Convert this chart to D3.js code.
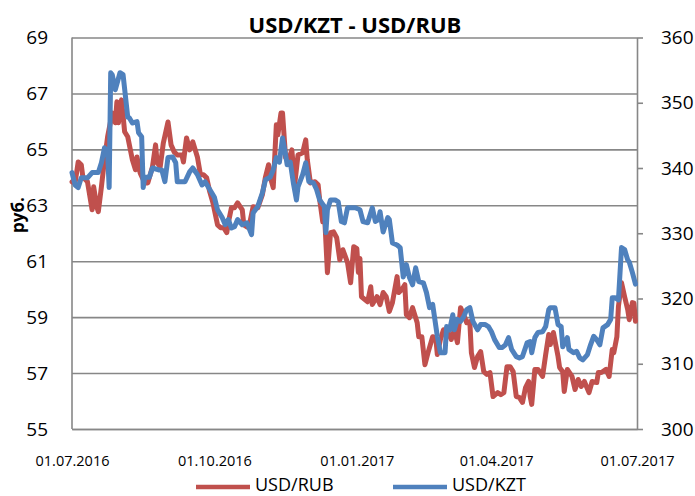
<!DOCTYPE html>
<html>
<head>
<meta charset="utf-8">
<script src="https://cdn.jsdelivr.net/npm/d3@7"></script>
<style>
  body { margin: 0; background: #fff; }
  svg text { font-family: "Open Sans", sans-serif; fill: #000; }
</style>
</head>
<body>
<div class="chart"></div>
<script>
// USD/KZT (right axis), daily
var kztData = [
  ["2016-07-01",339.3],["2016-07-03",337.4],["2016-07-05",337.0],["2016-07-07",338.5],["2016-07-11",338.5],
  ["2016-07-14",339.3],["2016-07-18",339.3],["2016-07-20",340.8],["2016-07-22",343.1],["2016-07-24",342.3],
  ["2016-07-25",337.0],["2016-07-26",354.6],["2016-07-27",354.3],["2016-07-29",352.0],["2016-08-01",354.6],
  ["2016-08-03",354.3],["2016-08-06",347.8],["2016-08-07",347.7],["2016-08-09",346.9],["2016-08-12",347.1],
  ["2016-08-13",345.4],["2016-08-15",344.8],["2016-08-16",337.0],["2016-08-17",338.6],["2016-08-20",338.6],
  ["2016-08-22",340.0],["2016-08-26",339.7],["2016-08-28",339.7],["2016-08-30",337.9],["2016-09-01",341.6],
  ["2016-09-04",341.7],["2016-09-06",340.8],["2016-09-07",337.9],["2016-09-12",337.9],["2016-09-15",339.4],
  ["2016-09-17",340.0],["2016-09-20",339.0],["2016-09-23",337.4],["2016-09-25",337.9],["2016-09-28",336.7],
  ["2016-10-01",335.5],["2016-10-03",333.6],["2016-10-06",332.4],["2016-10-08",331.3],["2016-10-10",332.1],
  ["2016-10-12",330.8],["2016-10-14",331.0],["2016-10-16",332.1],["2016-10-19",331.3],["2016-10-22",331.6],
  ["2016-10-25",329.8],["2016-10-26",333.1],["2016-10-29",334.1],["2016-11-01",336.2],["2016-11-03",338.2],
  ["2016-11-06",338.6],["2016-11-08",339.7],["2016-11-10",341.6],["2016-11-12",340.9],["2016-11-14",344.6],
  ["2016-11-16",342.0],["2016-11-17",340.5],["2016-11-19",340.9],["2016-11-21",337.7],["2016-11-23",335.1],
  ["2016-11-24",337.1],["2016-11-27",339.0],["2016-11-29",340.8],["2016-12-01",337.9],["2016-12-04",337.7],
  ["2016-12-06",336.7],["2016-12-08",335.1],["2016-12-11",334.1],["2016-12-12",330.1],["2016-12-13",333.6],
  ["2016-12-15",335.1],["2016-12-18",335.1],["2016-12-20",334.8],["2016-12-22",331.8],["2016-12-24",331.6],
  ["2016-12-26",333.9],["2016-12-29",333.9],["2016-12-31",333.9],["2017-01-03",333.6],["2017-01-05",331.8],
  ["2017-01-08",331.6],["2017-01-11",333.9],["2017-01-13",331.8],["2017-01-15",332.1],["2017-01-16",333.3],
  ["2017-01-18",330.2],["2017-01-21",332.4],["2017-01-22",332.1],["2017-01-24",328.5],["2017-01-27",328.2],
  ["2017-01-29",327.8],["2017-01-31",323.3],["2017-02-02",325.2],["2017-02-04",323.2],["2017-02-06",322.1],
  ["2017-02-08",324.7],["2017-02-10",322.6],["2017-02-13",322.4],["2017-02-15",320.9],["2017-02-17",318.6],
  ["2017-02-19",319.1],["2017-02-22",314.2],["2017-02-24",311.7],["2017-02-27",311.7],["2017-02-28",315.7],
  ["2017-03-02",315.2],["2017-03-04",317.5],["2017-03-05",315.2],["2017-03-07",316.8],["2017-03-09",316.5],
  ["2017-03-11",317.2],["2017-03-13",318.3],["2017-03-15",318.6],["2017-03-17",316.5],["2017-03-20",315.2],
  ["2017-03-22",316.0],["2017-03-25",316.0],["2017-03-27",315.7],["2017-03-29",314.9],["2017-03-31",313.7],
  ["2017-04-03",312.5],["2017-04-05",312.5],["2017-04-07",312.9],["2017-04-09",314.0],["2017-04-11",312.2],
  ["2017-04-14",311.1],["2017-04-16",310.9],["2017-04-18",311.1],["2017-04-21",313.2],["2017-04-23",313.4],
  ["2017-04-24",311.7],["2017-04-26",314.0],["2017-04-28",314.8],["2017-05-01",314.9],["2017-05-03",315.7],
  ["2017-05-05",318.3],["2017-05-06",318.6],["2017-05-09",318.6],["2017-05-11",316.0],["2017-05-13",315.7],
  ["2017-05-14",312.6],["2017-05-17",314.0],["2017-05-18",312.2],["2017-05-21",311.7],["2017-05-23",311.9],
  ["2017-05-25",310.9],["2017-05-27",310.6],["2017-05-30",311.4],["2017-06-01",312.9],["2017-06-03",314.2],
  ["2017-06-05",313.7],["2017-06-07",312.9],["2017-06-09",315.5],["2017-06-12",316.0],["2017-06-14",316.8],
  ["2017-06-15",320.1],["2017-06-17",320.1],["2017-06-19",319.8],["2017-06-21",327.8],["2017-06-23",327.5],
  ["2017-06-25",325.9],["2017-06-26",325.6],["2017-06-28",324.0],["2017-06-30",322.2]
];

// USD/RUB (left axis), daily
var rubData = [
  ["2016-07-01",63.84],["2016-07-03",63.80],["2016-07-05",64.55],["2016-07-07",64.45],["2016-07-08",64.02],
  ["2016-07-11",63.84],["2016-07-14",62.84],["2016-07-15",63.66],["2016-07-17",62.95],["2016-07-18",62.77],
  ["2016-07-20",63.66],["2016-07-22",64.63],["2016-07-24",65.45],["2016-07-27",66.30],["2016-07-29",65.95],
  ["2016-07-30",66.70],["2016-07-31",65.95],["2016-08-02",66.77],["2016-08-04",65.63],["2016-08-06",65.45],
  ["2016-08-09",64.63],["2016-08-11",64.27],["2016-08-12",64.73],["2016-08-14",64.16],["2016-08-17",63.80],
  ["2016-08-19",63.80],["2016-08-22",64.38],["2016-08-24",65.16],["2016-08-25",64.52],["2016-08-27",64.38],
  ["2016-08-29",65.23],["2016-09-01",65.98],["2016-09-03",65.16],["2016-09-05",64.91],["2016-09-07",64.80],
  ["2016-09-10",64.80],["2016-09-11",64.55],["2016-09-13",65.41],["2016-09-15",64.98],["2016-09-17",65.27],
  ["2016-09-20",64.73],["2016-09-22",64.09],["2016-09-24",64.09],["2016-09-26",63.98],["2016-09-28",63.48],
  ["2016-09-30",63.10],["2016-10-03",62.30],["2016-10-05",62.20],["2016-10-07",62.20],["2016-10-09",62.02],
  ["2016-10-10",62.38],["2016-10-12",62.91],["2016-10-14",62.91],["2016-10-16",63.09],["2016-10-19",62.84],
  ["2016-10-20",62.30],["2016-10-22",62.23],["2016-10-24",62.41],["2016-10-26",62.95],["2016-10-29",62.91],
  ["2016-11-01",63.38],["2016-11-03",64.02],["2016-11-05",64.45],["2016-11-06",64.02],["2016-11-08",63.63],
  ["2016-11-10",65.88],["2016-11-11",65.52],["2016-11-13",66.30],["2016-11-14",66.30],["2016-11-16",64.70],
  ["2016-11-18",64.63],["2016-11-20",64.98],["2016-11-22",63.80],["2016-11-24",64.80],["2016-11-27",64.88],
  ["2016-11-29",65.34],["2016-11-30",64.63],["2016-12-02",63.80],["2016-12-05",63.84],["2016-12-07",63.73],
  ["2016-12-08",63.20],["2016-12-10",62.41],["2016-12-11",62.84],["2016-12-13",60.59],["2016-12-15",62.02],
  ["2016-12-17",62.05],["2016-12-19",61.84],["2016-12-21",61.05],["2016-12-23",61.41],["2016-12-26",60.95],
  ["2016-12-28",60.23],["2016-12-30",61.52],["2017-01-01",61.45],["2017-01-02",60.60],["2017-01-03",61.10],
  ["2017-01-04",59.73],["2017-01-08",59.55],["2017-01-10",60.09],["2017-01-11",59.45],["2017-01-14",59.73],
  ["2017-01-16",59.45],["2017-01-18",59.88],["2017-01-20",59.73],["2017-01-22",59.20],["2017-01-24",59.52],
  ["2017-01-27",60.45],["2017-01-28",59.88],["2017-01-30",59.98],["2017-02-01",60.16],["2017-02-02",59.09],
  ["2017-02-04",58.98],["2017-02-06",59.34],["2017-02-09",58.80],["2017-02-10",58.30],["2017-02-12",58.30],
  ["2017-02-14",57.30],["2017-02-16",57.73],["2017-02-19",58.30],["2017-02-21",58.27],["2017-02-22",57.66],
  ["2017-02-24",58.20],["2017-02-26",58.55],["2017-03-01",58.45],["2017-03-03",58.20],["2017-03-05",58.55],
  ["2017-03-07",58.09],["2017-03-09",59.34],["2017-03-11",59.09],["2017-03-13",58.80],["2017-03-15",58.84],
  ["2017-03-16",57.73],["2017-03-18",57.20],["2017-03-20",57.59],["2017-03-22",57.77],["2017-03-24",57.05],
  ["2017-03-26",56.95],["2017-03-28",57.02],["2017-03-30",56.16],["2017-04-02",56.30],["2017-04-04",56.23],
  ["2017-04-06",56.30],["2017-04-08",57.23],["2017-04-10",57.23],["2017-04-12",57.05],["2017-04-14",56.16],
  ["2017-04-16",56.13],["2017-04-18",55.95],["2017-04-20",56.48],["2017-04-22",56.70],["2017-04-23",56.16],
  ["2017-04-24",55.88],["2017-04-26",57.13],["2017-04-28",57.13],["2017-05-01",56.88],["2017-05-03",57.66],
  ["2017-05-05",58.38],["2017-05-06",58.02],["2017-05-08",58.45],["2017-05-11",57.59],["2017-05-12",57.20],
  ["2017-05-14",57.05],["2017-05-15",56.34],["2017-05-17",57.13],["2017-05-20",56.88],["2017-05-22",56.41],
  ["2017-05-24",56.77],["2017-05-26",56.52],["2017-05-28",56.70],["2017-05-31",56.30],["2017-06-02",56.70],
  ["2017-06-05",56.66],["2017-06-06",57.02],["2017-06-08",57.02],["2017-06-11",57.13],["2017-06-13",56.88],
  ["2017-06-15",57.84],["2017-06-16",57.73],["2017-06-18",58.30],["2017-06-19",59.38],["2017-06-21",60.23],
  ["2017-06-23",59.73],["2017-06-25",59.27],["2017-06-26",58.91],["2017-06-28",59.52],["2017-06-29",59.50],
  ["2017-06-30",58.85]
];

var leftTicks = [55,57,59,61,63,65,67,69];
var rightTicks = [300,310,320,330,340,350,360];
var dateTicks = ["2016-07-01","2016-10-01","2017-01-01","2017-04-01","2017-07-01"];
var dateTickLabels = ["01.07.2016","01.10.2016","01.01.2017","01.04.2017","01.07.2017"];
var seriesNames = ["USD/RUB","USD/KZT"];
var seriesColors = ["#C0504D","#4F81BD"];

var width = 695, height = 496;
var plotLeft = 72, plotRight = 637, plotTop = 37.5, plotBottom = 429;
var parse = d3.timeParse("%Y-%m-%d");

var svg = d3.select(".chart").append("svg").attr("width",width).attr("height",height)

var x = d3.scaleTime().domain([parse("2016-07-01"),parse("2017-07-01")]).range([plotLeft,plotRight])
var yL = d3.scaleLinear().domain([55,69]).range([plotBottom,plotTop])
var yR = d3.scaleLinear().domain([300,360]).range([plotBottom,plotTop])

var gridColor = "#878787";

// left axis + gridlines
var leftAxis = svg.append("g").attr("transform","translate("+plotLeft+",0)")
	.call(d3.axisLeft(yL).tickValues(leftTicks).tickSize(-(plotRight-plotLeft)).tickPadding(24).tickFormat(d3.format("d")))
leftAxis.select(".domain").remove()
leftAxis.selectAll("line").attr("stroke",gridColor).attr("stroke-width",1.6)
leftAxis.selectAll("text").style("font-size","19px")
svg.append("line").attr("x1",plotLeft).attr("x2",plotLeft).attr("y1",plotTop).attr("y2",plotBottom)
	.attr("stroke",gridColor).attr("stroke-width",1.6)

// right axis
var rightAxis = svg.append("g").attr("transform","translate("+plotRight+",0)")
	.call(d3.axisRight(yR).tickValues(rightTicks).tickSize(6).tickSizeOuter(0).tickPadding(18).tickFormat(d3.format("d")))
rightAxis.select(".domain").attr("stroke",gridColor).attr("stroke-width",1.6)
rightAxis.selectAll("line").attr("stroke",gridColor).attr("stroke-width",1.6)
rightAxis.selectAll("text").style("font-size","19px")

// bottom axis
var bottomAxis = svg.append("g").attr("transform","translate(0,"+plotBottom+")")
	.call(d3.axisBottom(x).tickValues(dateTicks.map(parse)).tickSize(0).tickPadding(37)
		.tickFormat(function(d,i){return dateTickLabels[i]}))
bottomAxis.select(".domain").attr("stroke",gridColor).attr("stroke-width",1.6)
bottomAxis.selectAll("text").style("font-size","14.5px").attr("dy",0)

// series
var lineL = d3.line().x(function(d){return x(parse(d[0]))}).y(function(d){return yL(d[1])})
var lineR = d3.line().x(function(d){return x(parse(d[0]))}).y(function(d){return yR(d[1])})

svg.append("path").datum(rubData).attr("d",lineL)
	.attr("fill","none").attr("stroke",seriesColors[0]).attr("stroke-width",5)
	.attr("stroke-linejoin","round").attr("stroke-linecap","round")
svg.append("path").datum(kztData).attr("d",lineR)
	.attr("fill","none").attr("stroke",seriesColors[1]).attr("stroke-width",5)
	.attr("stroke-linejoin","round").attr("stroke-linecap","round")

// title
svg.append("text").attr("x",355).attr("y",33).attr("text-anchor","middle")
	.style("font-size","22px").style("font-weight","bold").text("USD/KZT - USD/RUB")

// y label
svg.append("text").attr("transform","translate(24,215) rotate(-90)").attr("text-anchor","middle")
	.style("font-size","17px").style("font-weight","bold").text("руб.")

// legend
var legendX = [196,393];
var legend = svg.append("g").selectAll("g").data(seriesNames).enter().append("g")
	.attr("transform",function(d,i){return "translate("+legendX[i]+",0)"})
legend.append("line").attr("x1",0).attr("x2",54).attr("y1",487).attr("y2",487)
	.attr("stroke",function(d,i){return seriesColors[i]}).attr("stroke-width",4.5)
legend.append("text").attr("x",59).attr("y",491).style("font-size","18px").text(function(d){return d})
</script>
</body>
</html>
